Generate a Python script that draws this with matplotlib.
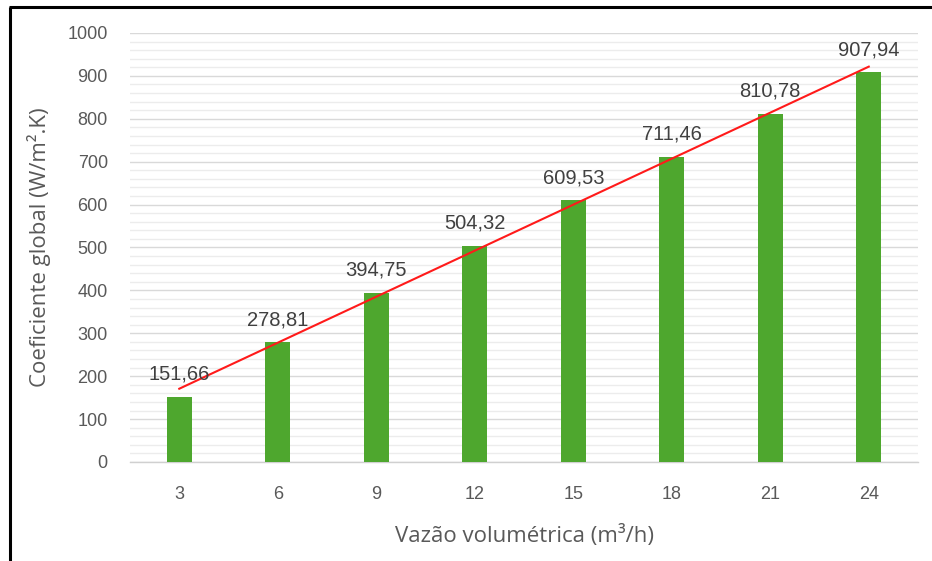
import numpy as np
import matplotlib
matplotlib.use("Agg")
import matplotlib.pyplot as plt
from matplotlib.lines import Line2D
from matplotlib.ticker import MultipleLocator

# Volumetric flow rate (m3/h) and overall heat transfer coefficient (W/m2.K)
flow_rates = [3, 6, 9, 12, 15, 18, 21, 24]
coefficients = [151.66, 278.81, 394.75, 504.32, 609.53, 711.46, 810.78, 907.94]
value_labels = ["151,66", "278,81", "394,75", "504,32", "609,53", "711,46", "810,78", "907,94"]

plt.rcParams["font.family"] = ["Liberation Sans", "DejaVu Sans"]

fig = plt.figure(figsize=(9.32, 5.61), dpi=100)
ax = fig.add_axes([0.1395, 0.1765, 0.8455, 0.7647])

pos = np.arange(len(flow_rates))
ax.bar(pos, coefficients, width=0.25, color="#4ea72e", zorder=3)

# Linear trend line across the categories
slope, intercept = np.polyfit(pos, coefficients, 1)
ax.plot(pos, slope * pos + intercept, color="#ff1a1a", lw=1.5, zorder=4)

for p, v, lab in zip(pos, coefficients, value_labels):
    ax.annotate(lab, (p, v), xytext=(0, 9.5), textcoords="offset points",
                ha="center", va="bottom", fontsize=14.5, color="#404040", zorder=5)

ax.set_xlim(-0.5, len(flow_rates) - 0.5)
ax.set_ylim(0, 1000)
ax.set_xticks(pos)
ax.set_xticklabels([str(f) for f in flow_rates])
ax.yaxis.set_major_locator(MultipleLocator(100))
ax.yaxis.set_minor_locator(MultipleLocator(20))

ax.grid(axis="y", which="major", color="#d9d9d9", lw=1.0, zorder=0)
ax.grid(axis="y", which="minor", color="#ececec", lw=1.0, zorder=0)
ax.set_axisbelow(True)

for side in ["top", "right", "left"]:
    ax.spines[side].set_visible(False)
ax.spines["bottom"].set_color("#d0d0d0")
ax.spines["bottom"].set_linewidth(1.0)

ax.tick_params(axis="both", which="both", length=0, labelsize=13, colors="#595959")
ax.tick_params(axis="y", pad=16)
ax.tick_params(axis="x", pad=17)

ax.set_xlabel("Vazão volumétrica (m³/h)", fontsize=16, color="#595959",
              family=["Open Sans", "DejaVu Sans"], labelpad=16)
ax.set_ylabel("Coeficiente global (W/m².K)", fontsize=16, color="#595959",
              family=["Open Sans", "DejaVu Sans"], labelpad=12)

# Frame around the chart area (left and top edges)
fig.add_artist(Line2D([10 / 932, 10 / 932], [0, 1 - 7 / 561], transform=fig.transFigure,
                      color="black", lw=2.2, solid_capstyle="butt"))
fig.add_artist(Line2D([9 / 932, 1], [1 - 7 / 561, 1 - 7 / 561], transform=fig.transFigure,
                      color="black", lw=2.2, solid_capstyle="butt"))

fig.savefig("out.png", dpi=100)
